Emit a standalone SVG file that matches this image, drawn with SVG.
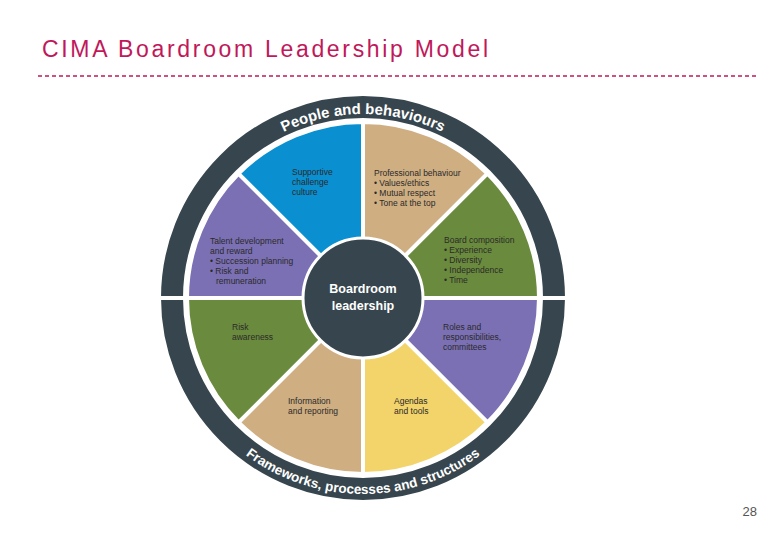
<svg xmlns="http://www.w3.org/2000/svg" width="780" height="540" viewBox="0 0 780 540">
<style>
.s{stroke:#fff;stroke-width:4;stroke-linejoin:round}
.t{font-family:"Liberation Sans",Arial,sans-serif;font-size:8.5px;fill:#2a2a2a}
.r{font-family:"Liberation Sans",Arial,sans-serif;fill:#fff;font-weight:bold}
</style>
<defs>
<path id="top" d="M 179,298 A 184 184 0 0 1 547,298"/>
<path id="bot" d="M 167,298 A 196 196 0 0 0 559,298"/>
</defs>
<rect width="780" height="540" fill="#fff"/>
<text x="42" y="57" font-family="Liberation Sans,Arial,sans-serif" font-size="23" textLength="446" fill="#c0185a">CIMA Boardroom Leadership Model</text>
<line x1="38" y1="76" x2="757" y2="76" stroke="#c0185a" stroke-width="1.5" stroke-dasharray="4,3"/>
<text x="757" y="516" text-anchor="end" font-family="Liberation Sans,Arial,sans-serif" font-size="13" fill="#555">28</text>
<g id="ring">
<circle cx="363" cy="298" r="191" fill="none" stroke="#37464e" stroke-width="22"/>
<rect x="160" y="296" width="30" height="4" fill="#fff"/>
<rect x="536" y="296" width="34" height="4" fill="#fff"/>
<text class="r" font-size="15"><textPath href="#top" startOffset="50%" text-anchor="middle">People and behaviours</textPath></text>
<text class="r" font-size="13.5"><textPath href="#bot" startOffset="50%" text-anchor="middle">Frameworks, processes and structures</textPath></text>
</g>
<g id="n-professional"><path class="s" fill="#cfae82" d="M363,298 L363,122 A176 176 0 0 1 487.45,173.55 Z"/>
<text class="t" x="374" y="176">Professional behaviour</text><text class="t" x="374" y="186">• Values/ethics</text><text class="t" x="374" y="196">• Mutual respect</text><text class="t" x="374" y="206">• Tone at the top</text></g>
<g id="n-board"><path class="s" fill="#6a8b3d" d="M363,298 L487.45,173.55 A176 176 0 0 1 539,298 Z"/>
<text class="t" x="444" y="243">Board composition</text><text class="t" x="444" y="253">• Experience</text><text class="t" x="444" y="263">• Diversity</text><text class="t" x="444" y="273">• Independence</text><text class="t" x="444" y="283">• Time</text></g>
<g id="n-roles"><path class="s" fill="#7b70b4" d="M363,298 L539,298 A176 176 0 0 1 487.45,422.45 Z"/>
<text class="t" x="443" y="330">Roles and</text><text class="t" x="443" y="340">responsibilities,</text><text class="t" x="443" y="350">committees</text></g>
<g id="n-agendas"><path class="s" fill="#f2d46b" d="M363,298 L487.45,422.45 A176 176 0 0 1 363,474 Z"/>
<text class="t" x="394" y="404">Agendas</text><text class="t" x="394" y="414">and tools</text></g>
<g id="n-information"><path class="s" fill="#cfae82" d="M363,298 L363,474 A176 176 0 0 1 238.55,422.45 Z"/>
<text class="t" x="288" y="404">Information</text><text class="t" x="288" y="414">and reporting</text></g>
<g id="n-risk"><path class="s" fill="#6a8b3d" d="M363,298 L238.55,422.45 A176 176 0 0 1 187,298 Z"/>
<text class="t" x="232" y="330">Risk</text><text class="t" x="232" y="340">awareness</text></g>
<g id="n-talent"><path class="s" fill="#7b70b4" d="M363,298 L187,298 A176 176 0 0 1 238.55,173.55 Z"/>
<text class="t" x="210" y="244">Talent development</text><text class="t" x="210" y="254">and reward</text><text class="t" x="210" y="264">• Succession planning</text><text class="t" x="210" y="274">• Risk and</text><text class="t" x="216" y="284">remuneration</text></g>
<g id="n-supportive"><path class="s" fill="#0a8fd0" d="M363,298 L238.55,173.55 A176 176 0 0 1 363,122 Z"/>
<text class="t" x="292" y="175">Supportive</text><text class="t" x="292" y="185">challenge</text><text class="t" x="292" y="195">culture</text></g>
<g id="n-center"><circle cx="363" cy="298" r="60" fill="#37464e" stroke="#fff" stroke-width="3"/>
<text x="363" y="293" text-anchor="middle" font-family="Liberation Sans,Arial,sans-serif" font-size="12.5" font-weight="bold" fill="#fff">Boardroom</text>
<text x="363" y="310" text-anchor="middle" font-family="Liberation Sans,Arial,sans-serif" font-size="12.5" font-weight="bold" fill="#fff">leadership</text></g>
</svg>
